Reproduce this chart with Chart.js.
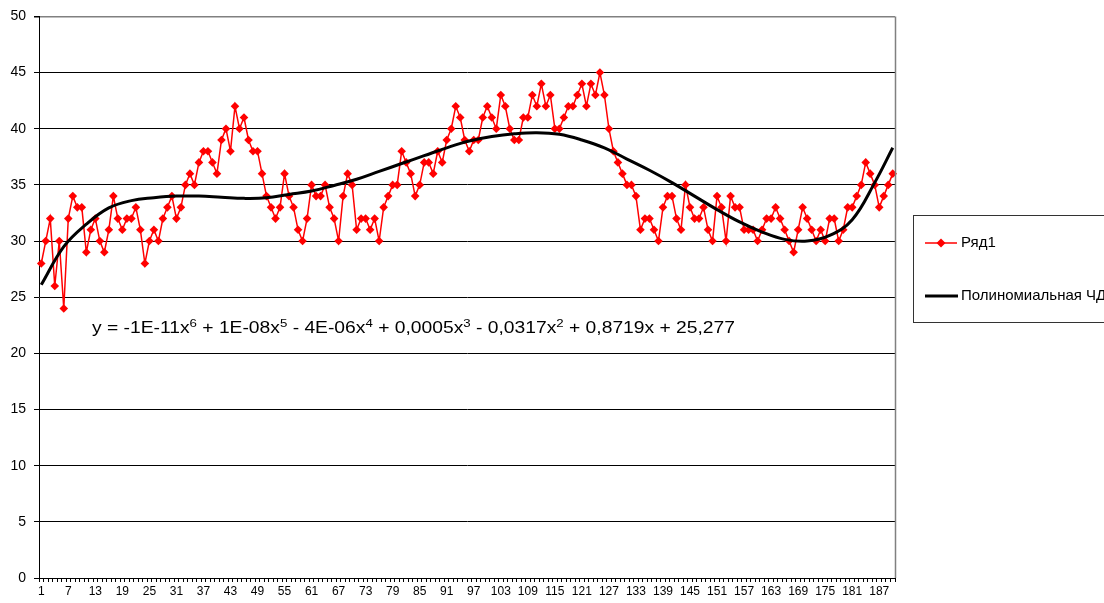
<!DOCTYPE html>
<html>
<head>
<meta charset="utf-8">
<script src="https://cdn.jsdelivr.net/npm/chart.js@4.4.1/dist/chart.umd.min.js"></script>
<style>
  html, body { margin: 0; padding: 0; background: #fff; }
</style>
</head>
<body>
<canvas id="grafico" width="1104" height="603"></canvas>
<script>
// series values (190 points)
var serie = [
  28,30,32,26,30,24,32,34,33,33,29,31,32,30,29,31,34,32,31,32,32,33,31,28,30,31,30,32,33,34,32,33,35,
  36,35,37,38,38,37,36,39,40,38,42,40,41,39,38,38,36,34,33,32,33,36,34,33,31,30,32,35,34,34,35,
  33,32,30,34,36,35,31,32,32,31,32,30,33,34,35,35,38,37,36,34,35,37,37,36,38,37,39,40,
  42,41,39,38,39,39,41,42,41,40,43,42,40,39,39,41,41,43,42,44,42,43,40,40,41,42,42,43,44,42,44,43,45,43,40,38,
  37,36,35,35,34,31,32,32,31,30,33,34,34,32,31,35,33,32,32,33,31,30,34,33,30,34,33,33,31,31,
  31,30,31,32,32,33,32,31,30,29,31,33,32,31,30,31,30,32,32,30,31,33,33,34,35,37,36,35,33,34,35,36
];

// categories 1..190
var rotulos = [];
for (var i = 1; i <= serie.length; i++) {
  rotulos.push(String(i));
}

// trend line at some categories
var tendIdx = [1,6,11,16,21,26,31,36,41,46,51,56,61,66,71,76,81,86,91,96,101,106,111,116,121,126,131,136,141,146,151,156,161,166,171,176,181,186,190];
var tendVal = [26.1,29.5,31.5,32.95,33.6,33.85,34.0,34.0,33.9,33.8,33.85,34.15,34.45,34.95,35.5,36.2,36.9,37.6,38.3,38.9,39.3,39.55,39.65,39.5,39.0,38.3,37.3,36.3,35.2,34.0,32.8,31.7,30.8,30.15,30.0,30.5,31.9,35.2,38.3];

var yTicks = [0,5,10,15,20,25,30,35,40,45,50];

var equacao = [
  ['y = -1E-11x', false], ['6', true],
  [' + 1E-08x', false], ['5', true],
  [' - 4E-06x', false], ['4', true],
  [' + 0,0005x', false], ['3', true],
  [' - 0,0317x', false], ['2', true],
  [' + 0,8719x + 25,277', false]
];

var nomeSerie = 'Ряд1';
var nomeTendencia = 'Полиномиальная ЧД';

var fonte = '"Liberation Sans", Arial, sans-serif';

var tendencia = [];
for (var i = 0; i < serie.length; i++) tendencia.push(null);
for (var j = 0; j < tendIdx.length; j++) tendencia[tendIdx[j] - 1] = tendVal[j];

var extras = {
  id: 'extras',
  afterDraw: function (chart) {
    var ctx = chart.ctx;
    var area = chart.chartArea;
    ctx.save();

    // gray right border of the plot area
    ctx.strokeStyle = '#808080';
    ctx.lineWidth = 1.5;
    ctx.beginPath();
    ctx.moveTo(area.right + 0.5, area.top);
    ctx.lineTo(area.right + 0.5, area.bottom);
    ctx.stroke();

    // trend equation (text is stretched wide in the original)
    var largura = 0;
    for (var k = 0; k < equacao.length; k++) {
      ctx.font = (equacao[k][1] ? '11px ' : '16px ') + fonte;
      largura += ctx.measureText(equacao[k][0]).width;
    }
    ctx.save();
    ctx.translate(92, 333);
    ctx.scale(643 / largura, 1);
    ctx.fillStyle = '#000';
    ctx.textBaseline = 'alphabetic';
    ctx.textAlign = 'left';
    var x = 0;
    for (var k = 0; k < equacao.length; k++) {
      var sup = equacao[k][1];
      ctx.font = (sup ? '11px ' : '16px ') + fonte;
      ctx.fillText(equacao[k][0], x, sup ? -6.5 : 0);
      x += ctx.measureText(equacao[k][0]).width;
    }
    ctx.restore();

    // legend box
    ctx.strokeStyle = '#333';
    ctx.lineWidth = 1;
    ctx.strokeRect(913.5, 215.5, 220, 107);

    ctx.strokeStyle = '#ff0000';
    ctx.lineWidth = 1.5;
    ctx.beginPath();
    ctx.moveTo(925, 243);
    ctx.lineTo(957, 243);
    ctx.stroke();
    ctx.fillStyle = '#ff0000';
    ctx.beginPath();
    ctx.moveTo(941, 238.5);
    ctx.lineTo(945.5, 243);
    ctx.lineTo(941, 247.5);
    ctx.lineTo(936.5, 243);
    ctx.closePath();
    ctx.fill();

    ctx.strokeStyle = '#000';
    ctx.lineWidth = 3;
    ctx.beginPath();
    ctx.moveTo(925, 296);
    ctx.lineTo(958, 296);
    ctx.stroke();

    ctx.fillStyle = '#000';
    ctx.font = '15px ' + fonte;
    ctx.textBaseline = 'middle';
    ctx.fillText(nomeSerie, 961, 243);
    ctx.fillText(nomeTendencia, 961, 296);

    ctx.restore();
  }
};

var grafico = new Chart(document.getElementById('grafico'), {
  type: 'line',
  data: {
    labels: rotulos,
    datasets: [{
      label: nomeSerie,
      data: serie,
      borderColor: '#ff0000',
      backgroundColor: '#ff0000',
      borderWidth: 1.5,
      pointStyle: 'rectRot',
      pointRadius: 4.3,
      pointBorderWidth: 0,
      tension: 0,
      order: 1
    }, {
      label: nomeTendencia,
      data: tendencia,
      borderColor: '#000',
      borderWidth: 3,
      pointRadius: 0,
      tension: 0.4,
      spanGaps: true,
      order: 0
    }]
  },
  options: {
    responsive: false,
    animation: false,
    layout: { padding: { left: 0, top: 15, right: 209, bottom: 0 } },
    plugins: { legend: { display: false }, tooltip: { enabled: false } },
    scales: {
      x: {
        offset: true,
        grid: { offset: true, drawOnChartArea: false, tickLength: 4, color: '#000' },
        border: { color: '#000', width: 1 },
        ticks: {
          autoSkip: false, maxRotation: 0, minRotation: 0, padding: 2, color: '#000',
          font: { family: fonte, size: 12 },
          callback: function (v, i) { return i % 6 === 0 ? this.getLabelForValue(v) : ''; }
        },
        afterFit: function (s) { s.height = 25; }
      },
      y: {
        min: 0, max: 50,
        afterBuildTicks: function (s) { s.ticks = yTicks.map(function (v) { return { value: v }; }); },
        grid: {
          color: function (c) { return c.tick && c.tick.value === 50 ? '#808080' : '#000'; },
          lineWidth: function (c) { return c.tick && c.tick.value === 50 ? 1.5 : 1; },
          tickLength: 5, tickColor: '#000'
        },
        border: { color: '#000', width: 1 },
        ticks: { padding: 8, color: '#000', font: { family: fonte, size: 14 } },
        afterFit: function (s) { s.width = 39; }
      }
    }
  },
  plugins: [extras]
});
</script>
</body>
</html>
